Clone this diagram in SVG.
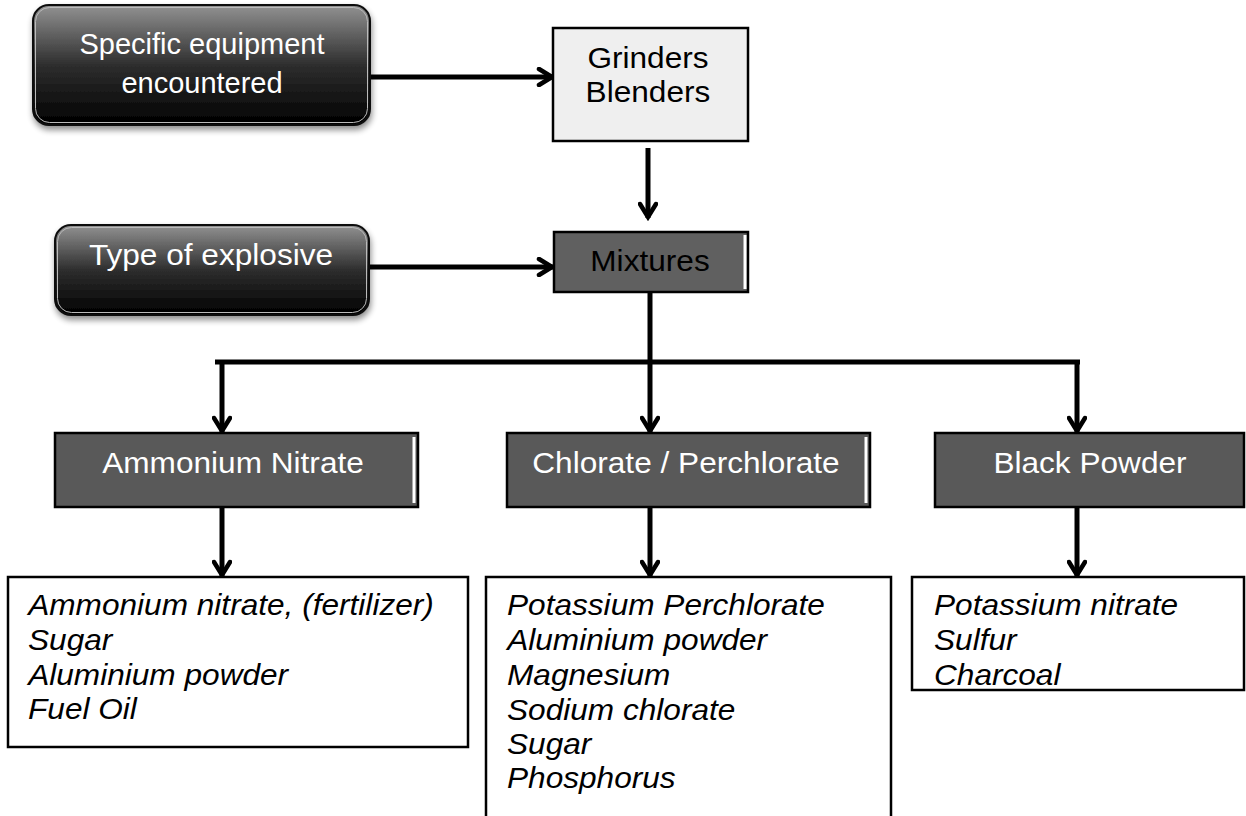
<svg xmlns="http://www.w3.org/2000/svg" width="1246" height="816" viewBox="0 0 1246 816">
<style>
.lbl{font-family:"Liberation Sans",Arial,sans-serif;font-size:29px;text-anchor:middle;transform-box:fill-box;transform-origin:center;transform:scaleX(1.09)}
.ns{transform:none}
.w{fill:#ffffff}
.k{fill:#000000}
.lst{font-family:"Liberation Sans",Arial,sans-serif;font-size:29px;font-style:italic;fill:#000;transform-box:fill-box;transform-origin:left center;transform:scaleX(1.09)}
.dark{fill:#595959;stroke:#000;stroke-width:2.5}
.edge{stroke:#fff;stroke-width:3}
.plain{fill:#fff;stroke:#000;stroke-width:2.5}
.con{stroke:#000;stroke-width:5;fill:none}
</style>
<defs>
<linearGradient id="g" x1="0" y1="0" x2="0" y2="1">
<stop offset="0" stop-color="#929292"/>
<stop offset="0.5" stop-color="#2e2e2e"/>
<stop offset="1" stop-color="#000"/>
</linearGradient>
<filter id="sh" x="-10%" y="-10%" width="120%" height="130%">
<feGaussianBlur in="SourceAlpha" stdDeviation="3"/>
<feOffset dx="1" dy="4"/>
<feComponentTransfer><feFuncA type="linear" slope="0.45"/></feComponentTransfer>
<feMerge><feMergeNode/><feMergeNode in="SourceGraphic"/></feMerge>
</filter>
<marker id="ah" viewBox="0 0 20 20" refX="17" refY="10" markerWidth="20" markerHeight="20" markerUnits="userSpaceOnUse" orient="auto">
<path d="M3,2 L16,10 L3,18" fill="none" stroke="#000" stroke-width="4.5" stroke-linecap="round" stroke-linejoin="miter"/>
</marker>
</defs>
<rect width="1246" height="816" fill="#fff"/>

<g id="connectors">
<line class="con" x1="370" y1="77" x2="553" y2="77" marker-end="url(#ah)"/>
<line class="con" x1="648" y1="148" x2="648" y2="218" marker-end="url(#ah)"/>
<line class="con" x1="369" y1="267" x2="553" y2="267" marker-end="url(#ah)"/>
<line class="con" x1="650" y1="292" x2="650" y2="362"/>
<line class="con" x1="215" y1="362" x2="1080" y2="362"/>
<line class="con" x1="222" y1="362" x2="222" y2="432" marker-end="url(#ah)"/>
<line class="con" x1="650" y1="362" x2="650" y2="432" marker-end="url(#ah)"/>
<line class="con" x1="1077" y1="362" x2="1077" y2="432" marker-end="url(#ah)"/>
<line class="con" x1="222" y1="507" x2="222" y2="576" marker-end="url(#ah)"/>
<line class="con" x1="650" y1="507" x2="650" y2="576" marker-end="url(#ah)"/>
<line class="con" x1="1077" y1="507" x2="1077" y2="576" marker-end="url(#ah)"/>
</g>

<g id="n-equipment">
<rect x="33" y="5" width="337" height="120" rx="16" fill="url(#g)" stroke="#111" stroke-width="2" filter="url(#sh)"/>
<rect x="35.5" y="7.5" width="332" height="115" rx="14" fill="none" stroke="#bbb" stroke-width="1"/>
<text class="lbl w ns" x="202" y="54">Specific equipment</text>
<text class="lbl w ns" x="202" y="93">encountered</text>
</g>

<g id="n-grinders">
<rect x="553" y="28" width="195" height="113" fill="#efefef" stroke="#000" stroke-width="2.5"/>
<text class="lbl k" x="648" y="68">Grinders</text>
<text class="lbl k" x="648" y="102">Blenders</text>
</g>

<g id="n-type">
<rect x="55" y="225" width="314" height="90" rx="16" fill="url(#g)" stroke="#111" stroke-width="2" filter="url(#sh)"/>
<rect x="57.5" y="227.5" width="309" height="85" rx="14" fill="none" stroke="#bbb" stroke-width="1"/>
<text class="lbl w" x="211" y="265">Type of explosive</text>
</g>

<g id="n-mixtures">
<rect x="554" y="232" width="194" height="60" fill="#606060" stroke="#000" stroke-width="2.5"/>
<line class="edge" x1="745" y1="235" x2="745" y2="289"/>
<text class="lbl k" x="650" y="271">Mixtures</text>
</g>

<g id="n-ammonium">
<rect class="dark" x="55" y="433" width="363" height="74"/>
<line class="edge" x1="414" y1="437" x2="414" y2="503"/>
<text class="lbl w" x="233" y="473">Ammonium Nitrate</text>
</g>

<g id="n-chlorate">
<rect class="dark" x="507" y="433" width="363" height="74"/>
<line class="edge" x1="866" y1="437" x2="866" y2="503"/>
<text class="lbl w" x="686" y="473">Chlorate / Perchlorate</text>
</g>

<g id="n-black">
<rect class="dark" x="935" y="433" width="309" height="74"/>
<text class="lbl w" x="1090" y="473">Black Powder</text>
</g>

<g id="n-list1">
<rect class="plain" x="8" y="577" width="460" height="170"/>
<text class="lst" x="28" y="615">Ammonium nitrate, (fertilizer)</text>
<text class="lst" x="28" y="650">Sugar</text>
<text class="lst" x="28" y="685">Aluminium powder</text>
<text class="lst" x="28" y="719">Fuel Oil</text>
</g>

<g id="n-list2">
<rect class="plain" x="486" y="577" width="405" height="250"/>
<text class="lst" x="507" y="615">Potassium Perchlorate</text>
<text class="lst" x="507" y="650">Aluminium powder</text>
<text class="lst" x="507" y="685">Magnesium</text>
<text class="lst" x="507" y="720">Sodium chlorate</text>
<text class="lst" x="507" y="754">Sugar</text>
<text class="lst" x="507" y="788">Phosphorus</text>
</g>

<g id="n-list3">
<rect class="plain" x="912" y="577" width="332" height="113"/>
<text class="lst" x="934" y="615">Potassium nitrate</text>
<text class="lst" x="934" y="650">Sulfur</text>
<text class="lst" x="934" y="685">Charcoal</text>
</g>
</svg>
